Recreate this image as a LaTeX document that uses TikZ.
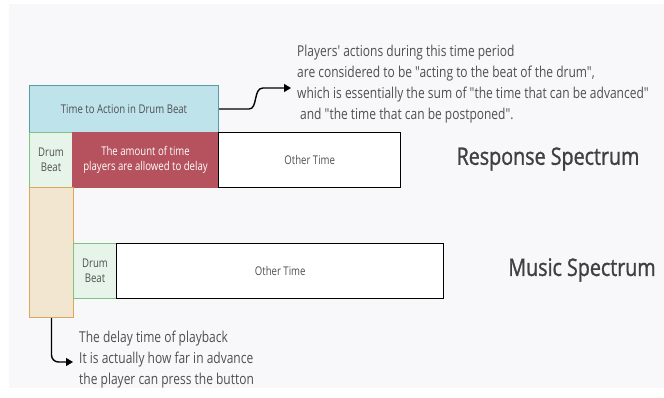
\documentclass[tikz,border=0pt]{standalone}
\usepackage{fontspec}
\setmainfont[FakeStretch=0.8, Ligatures=TeXOff]{Open Sans}
\newfontfamily\titlefont[FakeStretch=0.82, FakeBold=1.2, Ligatures=TeXOff]{Open Sans}
\usetikzlibrary{arrows.meta}
\definecolor{bgc}{HTML}{F8F8FA}
\definecolor{txt}{HTML}{505050}
\definecolor{ttl}{HTML}{404040}
\definecolor{bluef}{HTML}{BEE3EA}
\definecolor{blued}{HTML}{5A9AA8}
\definecolor{greenf}{HTML}{E6F4EA}
\definecolor{greend}{HTML}{7CC47F}
\definecolor{redf}{HTML}{B5525E}
\definecolor{tanf}{HTML}{F2E6D0}
\definecolor{tand}{HTML}{D9A65A}
\tikzset{
  box/.style={rectangle, anchor=north west, inner sep=0pt, align=center, line width=1pt, text=txt, font=\fontsize{12}{15}\selectfont},
  conn/.style={line width=1.4pt, -{Triangle[length=7pt,width=8pt]}},
  note/.style={anchor=north west, align=left, inner sep=0pt, text=txt, font=\fontsize{15}{21}\selectfont},
  title/.style={text=ttl, font=\titlefont\fontsize{24}{28}\selectfont, inner sep=0pt}
}
\begin{document}
\begin{tikzpicture}[x=1pt,y=-1pt]
\useasboundingbox (0,0) rectangle (664,398);
\fill[white] (0,0) rectangle (664,398);
\fill[bgc] (9,4) rectangle (664,388);
% response spectrum
\node[box, fill=bluef, draw=blued, minimum width=189pt, minimum height=47pt] (tta) at (29,85) {Time to Action in Drum Beat};
\node[box, fill=greenf, draw=greend, minimum width=43pt, minimum height=55pt] (db1) at (29,132) {Drum\\Beat};
\node[box, fill=redf, draw=redf, text=white, minimum width=146pt, minimum height=55pt] (delay) at (72,132) {The amount of time\\players are allowed to delay};
\node[box, fill=white, draw=black, line width=1.4pt, minimum width=182pt, minimum height=55pt] (ot1) at (218,132) {Other Time};
% playback delay
\node[box, fill=tanf, draw=tand, minimum width=44pt, minimum height=130pt] (tan) at (29,187) {};
% music spectrum
\node[box, fill=greenf, draw=greend, minimum width=43pt, minimum height=55pt] (db2) at (73,243) {Drum\\Beat};
\node[box, fill=white, draw=black, line width=1.4pt, minimum width=327pt, minimum height=55pt] (ot2) at (116,243) {Other Time};
% titles
\node[title] (rs) at (548,159) {Response Spectrum};
\node[title] (ms) at (582,270) {Music Spectrum};
% notes
\node[note] (ann) at (297,45) {Players' actions during this time period\\are considered to be "acting to the beat of the drum",\\which is essentially the sum of "the time that can be advanced"\\\hspace{3pt}and "the time that can be postponed".};
\node[note] (bnote) at (79,331) {The delay time of playback\\It is actually how far in advance\\the player can press the button};
% connectors
\coordinate (a1) at (291,88);
\coordinate (a2) at (73,362);
\draw[conn] (tta.east) -- (249,109) .. controls (258,109) and (253,88) .. (263,88) -- (a1);
\draw[conn, rounded corners=7pt] (tan.south) |- (a2);
\end{tikzpicture}
\end{document}
